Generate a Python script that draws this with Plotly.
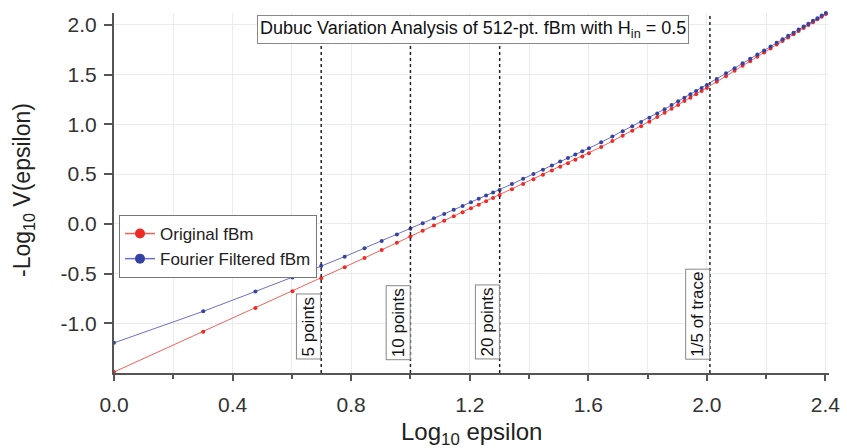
import numpy as np
import plotly.graph_objects as go

# ---- data ----
epsilon = [1, 2, 3, 4, 5, 6, 7, 8, 9, 10, 11, 12, 13, 14, 15, 16, 17, 18, 19, 20,
           22, 24, 26, 28, 30, 32, 34, 36, 38, 40,
           44, 48, 52, 56, 60, 64, 68, 72, 76, 80, 84, 88, 92, 96, 100,
           108, 116, 124, 132, 140, 148, 156, 164, 172, 180, 188, 196, 204,
           212, 220, 228, 236, 244, 252, 256]

original_fbm = [-1.490, -1.084, -0.846, -0.677, -0.546, -0.436, -0.343, -0.262, -0.191, -0.128,
                -0.070, -0.018, 0.030, 0.075, 0.117, 0.156, 0.192, 0.227, 0.260, 0.290,
                0.348, 0.400, 0.449, 0.493, 0.535, 0.574, 0.610, 0.645, 0.678, 0.709,
                0.773, 0.832, 0.886, 0.936, 0.982, 1.027, 1.073, 1.116, 1.157, 1.196,
                1.234, 1.269, 1.303, 1.335, 1.366,
                1.428, 1.485, 1.539, 1.589, 1.636, 1.681, 1.723, 1.763, 1.802, 1.838,
                1.873, 1.907, 1.939, 1.970, 1.999, 2.028, 2.056, 2.083, 2.109, 2.121]

fourier_filtered_fbm = [-1.197, -0.880, -0.680, -0.540, -0.425, -0.330, -0.245, -0.172, -0.108, -0.050,
                        0.005, 0.055, 0.100, 0.142, 0.180, 0.218, 0.252, 0.284, 0.315, 0.340,
                        0.400, 0.453, 0.500, 0.545, 0.587, 0.626, 0.663, 0.697, 0.729, 0.760,
                        0.820, 0.878, 0.930, 0.980, 1.025, 1.066, 1.110, 1.153, 1.194, 1.232,
                        1.268, 1.302, 1.335, 1.366, 1.395,
                        1.457, 1.513, 1.565, 1.614, 1.660, 1.703, 1.744, 1.783, 1.820, 1.856,
                        1.890, 1.922, 1.954, 1.985, 2.013, 2.041, 2.068, 2.094, 2.120, 2.130]

series_names = ["Original fBm", "Fourier Filtered fBm"]

marker_eps = [5, 10, 20, 102.4]
marker_labels = ["5 points", "10 points", "20 points", "1/5 of trace"]

x_tick_vals = [0.0, 0.4, 0.8, 1.2, 1.6, 2.0, 2.4]
x_tick_text = ["0.0", "0.4", "0.8", "1.2", "1.6", "2.0", "2.4"]
x_minor_vals = [0.2, 0.6, 1.0, 1.4, 1.8, 2.2]
y_tick_vals = [-1.0, -0.5, 0.0, 0.5, 1.0, 1.5, 2.0]
y_tick_text = ["-1.0", "-0.5", "0.0", "0.5", "1.0", "1.5", "2.0"]

title_text = "Dubuc Variation Analysis of 512-pt. fBm with H<sub>in</sub> = 0.5"
x_title = "Log<sub>10</sub> epsilon"
y_title = "-Log<sub>10</sub> V(epsilon)"

# ---- style ----
FONT = "Liberation Sans, Arial, sans-serif"
RED_LINE, RED_MK = "#f4605a", "#ee2a24"
BLUE_LINE, BLUE_MK = "#6a70c8", "#3442a4"
AXIS = "#555555"
GRID = "#e9ebf6"

L, R, T, B = 114, 18, 13, 75
W, H = 847, 448
PW, PH = W - L - R, H - T - B


def px(xp):
    return (xp - L) / PW


def py(yp):
    return (H - B - yp) / PH


x = np.log10(np.array(epsilon, dtype=float))

fig = go.Figure()
fig.add_trace(go.Scatter(x=x, y=original_fbm, mode="lines+markers", name=series_names[0],
                         line=dict(color=RED_LINE, width=1),
                         marker=dict(color=RED_MK, size=4),
                         showlegend=False, cliponaxis=False))
fig.add_trace(go.Scatter(x=x, y=fourier_filtered_fbm, mode="lines+markers", name=series_names[1],
                         line=dict(color=BLUE_LINE, width=1),
                         marker=dict(color=BLUE_MK, size=4),
                         showlegend=False, cliponaxis=False))
# legend entries
fig.add_trace(go.Scatter(x=[None], y=[None], mode="lines+markers", name=series_names[0],
                         line=dict(color=RED_LINE, width=1.5),
                         marker=dict(color=RED_MK, size=10)))
fig.add_trace(go.Scatter(x=[None], y=[None], mode="lines+markers", name=series_names[1],
                         line=dict(color=BLUE_LINE, width=1.5),
                         marker=dict(color=BLUE_MK, size=10)))

shapes = []
annotations = []
for e, lab in zip(marker_eps, marker_labels):
    lx = float(np.log10(e))
    shapes.append(dict(type="line", xref="x", yref="paper", x0=lx, x1=lx, y0=0, y1=1,
                       line=dict(color="#222222", width=1.5, dash="dot"), layer="above"))
    annotations.append(dict(x=lx, y=-1.367, xref="x", yref="y", text=lab, showarrow=False,
                            textangle=-90, xanchor="right", yanchor="bottom",
                            font=dict(family=FONT, size=17, color="#111111"),
                            bgcolor="white", bordercolor="#888888", borderwidth=1, borderpad=2))

annotations.append(dict(x=px(473), y=py(29.5), xref="paper", yref="paper",
                        text=title_text, showarrow=False, xanchor="center", yanchor="middle",
                        font=dict(family=FONT, size=18, color="#111111"),
                        bgcolor="white", bordercolor="#888888", borderwidth=1, borderpad=2))
annotations.append(dict(x=0.5, y=py(433), xref="paper", yref="paper", text=x_title,
                        showarrow=False, xanchor="center", yanchor="middle",
                        font=dict(family=FONT, size=24, color="#222222")))
annotations.append(dict(x=px(23), y=py(190), xref="paper", yref="paper", text=y_title,
                        showarrow=False, xanchor="center", yanchor="middle", textangle=-90,
                        font=dict(family=FONT, size=23, color="#222222")))

fig.update_layout(
    width=W, height=H,
    margin=dict(l=L, r=R, t=T, b=B, autoexpand=False),
    paper_bgcolor="white", plot_bgcolor="white",
    font=dict(family=FONT, color="#333333"),
    shapes=shapes, annotations=annotations,
    legend=dict(x=px(119), y=py(215), xanchor="left", yanchor="top",
                bgcolor="white", bordercolor="#777777", borderwidth=1,
                font=dict(family=FONT, size=17, color="#222222"), tracegroupgap=0),
    xaxis=dict(range=[0, 2.412], tickmode="array", tickvals=x_tick_vals, ticktext=x_tick_text,
               ticks="outside", ticklen=6, tickwidth=1.5, tickcolor=AXIS,
               showline=True, linecolor=AXIS, linewidth=2,
               showgrid=True, gridcolor=GRID, gridwidth=1, zeroline=False,
               tickfont=dict(family=FONT, size=21, color="#333333"), ticklabelstandoff=6,
               minor=dict(tickmode="array", tickvals=x_minor_vals, ticks="outside", ticklen=4,
                          tickcolor=AXIS, tickwidth=1.5, showgrid=True, gridcolor=GRID)),
    yaxis=dict(range=[-1.5, 2.12], tickmode="array", tickvals=y_tick_vals, ticktext=y_tick_text,
               ticks="outside", ticklen=8, tickwidth=1.5, tickcolor=AXIS,
               showline=True, linecolor=AXIS, linewidth=2,
               showgrid=True, gridcolor=GRID, gridwidth=1, zeroline=False,
               tickfont=dict(family=FONT, size=21, color="#333333"), ticklabelstandoff=3),
)

fig.write_html("out.html", config={"displayModeBar": False},
               post_script="document.body.style.margin='0px';")
